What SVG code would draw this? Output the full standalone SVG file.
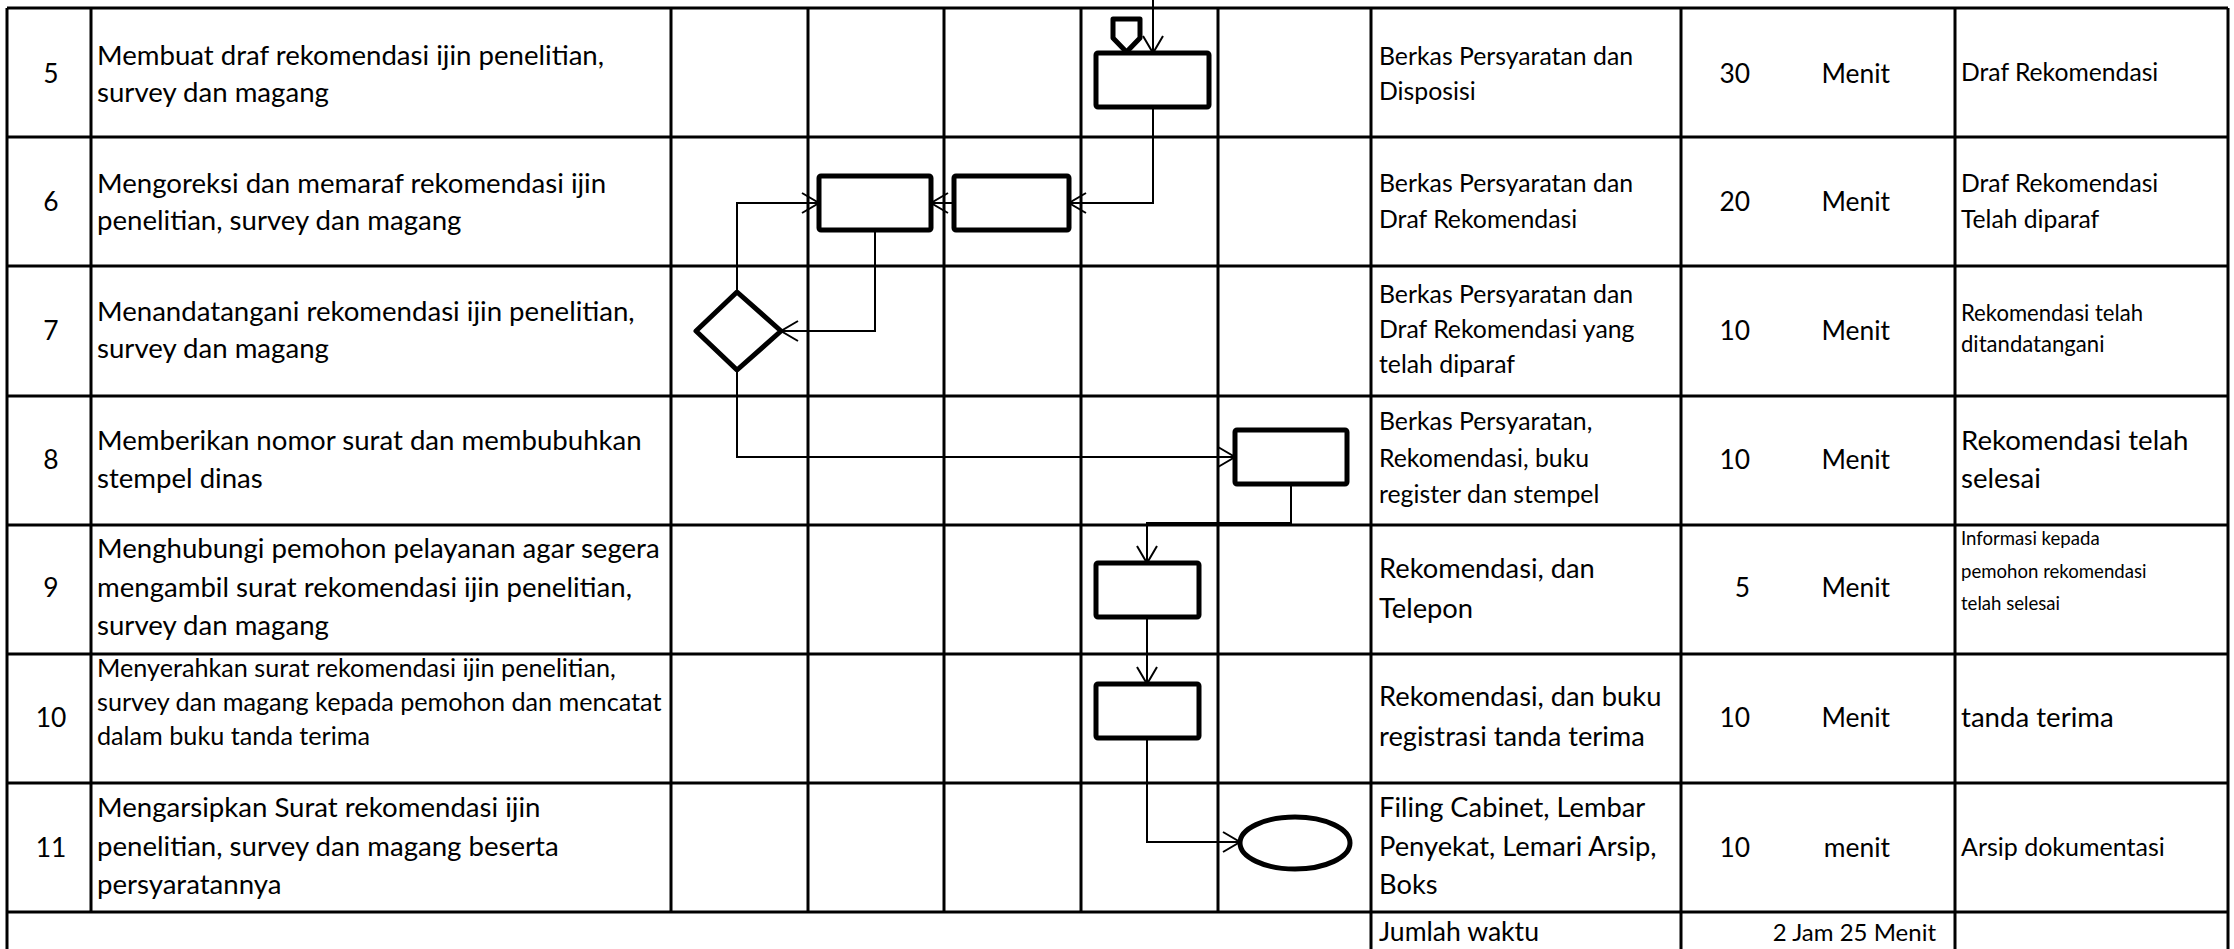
<svg xmlns="http://www.w3.org/2000/svg" width="2234" height="949" viewBox="0 0 2234 949">
<style>
.g{stroke:#000;stroke-width:3;fill:none}
.t{font-family:Lato,"Liberation Sans",sans-serif;fill:#000}
.d{font-size:27.6px}
.d10{font-size:25.2px}
.k{font-size:24.8px}
.kb{font-size:27.3px}
.o1{font-size:24.7px}
.o2{font-size:22.1px}
.o3{font-size:27.6px}
.o4{font-size:18.6px}
.n{font-size:26.4px;text-anchor:middle}
.w{font-size:26.4px;text-anchor:end}
.shape{fill:#fff;stroke:#000;stroke-width:5;stroke-linejoin:round}
.c{fill:none;stroke:#000;stroke-width:2}
</style>
<defs>
<marker id="ah" markerUnits="userSpaceOnUse" markerWidth="20" markerHeight="24" viewBox="0 0 20 24" refX="18" refY="12" orient="auto">
<path d="M1,2 L18,12 L1,22" fill="none" stroke="#000" stroke-width="2"/>
</marker>
</defs>
<rect width="2234" height="949" fill="#fff"/>
<g id="grid">
<path class="g" d="M7,8H2228M7,137H2228M7,266H2228M7,396H2228M7,525H2228M7,654H2228M7,783H2228M7,912H2228"/>
<path class="g" d="M7,8V949M91,8V912M671,8V912M808,8V912M944,8V912M1081,8V912M1218,8V912M1371,8V949M1681,8V949M1955,8V949M2228,8V949"/>
</g>
<g id="connectors">
<path class="c" d="M1153,0V53" marker-end="url(#ah)"/>
<path class="c" d="M1153,107V203H1069" marker-end="url(#ah)"/>
<path class="c" d="M954,203H931" marker-end="url(#ah)"/>
<path class="c" d="M737,292V203H819" marker-end="url(#ah)"/>
<path class="c" d="M875,230V331H781" marker-end="url(#ah)"/>
<path class="c" d="M737,370V457H1235" marker-end="url(#ah)"/>
<path class="c" d="M1291,484V523H1147V563" marker-end="url(#ah)"/>
<path class="c" d="M1147,617V684" marker-end="url(#ah)"/>
<path class="c" d="M1147,738V842H1240" marker-end="url(#ah)"/>
</g>
<g id="offpage"><polygon class="shape" points="1113,19 1140,19 1140,38 1126.5,52 1113,38"/></g>
<g id="n5"><rect class="shape" x="1096" y="53" width="113" height="54" rx="2"/></g>
<g id="n6a"><rect class="shape" x="819" y="176" width="112" height="54" rx="2"/></g>
<g id="n6b"><rect class="shape" x="954" y="176" width="115" height="54" rx="2"/></g>
<g id="n7"><polygon class="shape" points="737,292 781,331 737,370 696,331"/></g>
<g id="n8"><rect class="shape" x="1235" y="430" width="112" height="54" rx="2"/></g>
<g id="n9"><rect class="shape" x="1096" y="563" width="103" height="54" rx="2"/></g>
<g id="n10"><rect class="shape" x="1096" y="684" width="103" height="54" rx="2"/></g>
<g id="n11"><ellipse class="shape" cx="1295" cy="843" rx="55" ry="26"/></g>
<g id="numbers" class="t n">
<text x="51" y="83">5</text>
<text x="51" y="211">6</text>
<text x="51" y="340">7</text>
<text x="51" y="469">8</text>
<text x="51" y="597">9</text>
<text x="51" y="727">10</text>
<text x="51" y="857">11</text>
</g>
<g id="desc" class="t d">
<text x="97" y="65">Membuat draf rekomendasi ijin penelitian,</text>
<text x="97" y="102">survey dan magang</text>
<text x="97" y="193">Mengoreksi dan memaraf rekomendasi ijin</text>
<text x="97" y="230">penelitian, survey dan magang</text>
<text x="97" y="321">Menandatangani rekomendasi ijin penelitian,</text>
<text x="97" y="358">survey dan magang</text>
<text x="97" y="450">Memberikan nomor surat dan membubuhkan</text>
<text x="97" y="488">stempel dinas</text>
<text x="97" y="558">Menghubungi pemohon pelayanan agar segera</text>
<text x="97" y="597">mengambil surat rekomendasi ijin penelitian,</text>
<text x="97" y="635">survey dan magang</text>
<text x="97" y="677" class="d10">Menyerahkan surat rekomendasi ijin penelitian,</text>
<text x="97" y="711" class="d10">survey dan magang kepada pemohon dan mencatat</text>
<text x="97" y="745" class="d10">dalam buku tanda terima</text>
<text x="97" y="817">Mengarsipkan Surat rekomendasi ijin</text>
<text x="97" y="856">penelitian, survey dan magang beserta</text>
<text x="97" y="894">persyaratannya</text>
</g>
<g id="kelengkapan" class="t k">
<text x="1379" y="65">Berkas Persyaratan dan</text>
<text x="1379" y="100">Disposisi</text>
<text x="1379" y="192">Berkas Persyaratan dan</text>
<text x="1379" y="228">Draf Rekomendasi</text>
<text x="1379" y="303">Berkas Persyaratan dan</text>
<text x="1379" y="338">Draf Rekomendasi yang</text>
<text x="1379" y="373">telah diparaf</text>
<text x="1379" y="430">Berkas Persyaratan,</text>
<text x="1379" y="467">Rekomendasi, buku</text>
<text x="1379" y="503">register dan stempel</text>
<text x="1379" y="578" class="kb">Rekomendasi, dan</text>
<text x="1379" y="618" class="kb">Telepon</text>
<text x="1379" y="706" class="kb">Rekomendasi, dan buku</text>
<text x="1379" y="746" class="kb">registrasi tanda terima</text>
<text x="1379" y="817" class="kb">Filing Cabinet, Lembar</text>
<text x="1379" y="856" class="kb">Penyekat, Lemari Arsip,</text>
<text x="1379" y="894" class="kb">Boks</text>
<text x="1379" y="941" style="font-size:26.6px">Jumlah waktu</text>
</g>
<g id="waktu" class="t w">
<text x="1750" y="83">30</text><text x="1890" y="83">Menit</text>
<text x="1750" y="211">20</text><text x="1890" y="211">Menit</text>
<text x="1750" y="340">10</text><text x="1890" y="340">Menit</text>
<text x="1750" y="469">10</text><text x="1890" y="469">Menit</text>
<text x="1750" y="597">5</text><text x="1890" y="597">Menit</text>
<text x="1750" y="727">10</text><text x="1890" y="727">Menit</text>
<text x="1750" y="857">10</text><text x="1890" y="857">menit</text>
<text x="1936" y="941" style="font-size:24px">2 Jam 25 Menit</text>
</g>
<g id="output" class="t o1">
<text x="1961" y="81">Draf Rekomendasi</text>
<text x="1961" y="192">Draf Rekomendasi</text>
<text x="1961" y="228">Telah diparaf</text>
<text x="1961" y="321" class="o2">Rekomendasi telah</text>
<text x="1961" y="352" class="o2">ditandatangani</text>
<text x="1961" y="450" class="o3">Rekomendasi telah</text>
<text x="1961" y="488" class="o3">selesai</text>
<text x="1961" y="545" class="o4">Informasi kepada</text>
<text x="1961" y="578" class="o4">pemohon rekomendasi</text>
<text x="1961" y="610" class="o4">telah selesai</text>
<text x="1961" y="727" class="o3">tanda terima</text>
<text x="1961" y="856" style="font-size:25px">Arsip dokumentasi</text>
</g>
</svg>
